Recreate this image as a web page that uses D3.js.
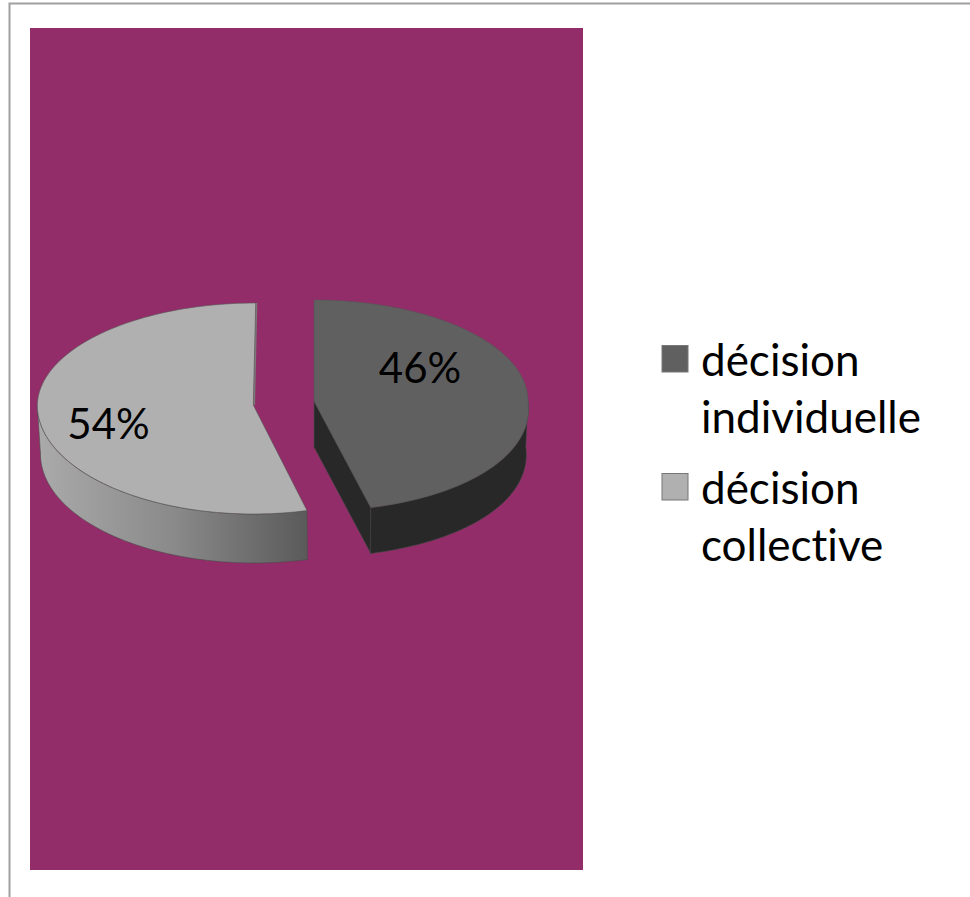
<!DOCTYPE html>
<html lang="fr">
<head>
<meta charset="utf-8">
<style>
  html, body { margin: 0; padding: 0; background: #fff; }
  svg { display: block; }
  text { font-family: Lato, "Open Sans", sans-serif; fill: #000; font-variant-ligatures: none; }
</style>
<script src="https://cdn.jsdelivr.net/npm/d3@7/dist/d3.min.js"></script>
</head>
<body>
<svg id="chart" width="970" height="897"></svg>
<script>
// Chart content
const categories = ["décision individuelle", "décision collective"];
const legendLines = [["décision", "individuelle"], ["décision", "collective"]];
const shares = [46, 54];
const shareLabels = ["46%", "54%"];
const topColors = ["#606060", "#b0b0b0"];
const wallColors = ["#282828", "url(#wallShade)"];
const wallShadeStops = ["#aaaaaa", "#8a8a8a", "#5a5a5a"];

const svg = d3.select("#chart");

// Page frame and plot background
svg.append("path")
  .attr("d", "M9.5,897V3.5H970")
  .attr("fill", "none").attr("stroke", "#a0a0a0").attr("stroke-width", 2);
svg.append("rect")
  .attr("x", 30).attr("y", 28).attr("width", 553).attr("height", 842)
  .attr("fill", "#932d69");

// Shading for the curved wall of the lighter slice
const grad = svg.append("defs").append("linearGradient")
  .attr("id", "wallShade").attr("gradientUnits", "userSpaceOnUse")
  .attr("x1", 38).attr("x2", 308).attr("y1", 0).attr("y2", 0);
wallShadeStops.forEach((c, i) => grad.append("stop")
  .attr("offset", i / (wallShadeStops.length - 1)).attr("stop-color", c));

// Pie angles, clockwise from twelve o'clock
const arcs = d3.pie().sort(null).value(d => d)(shares);

// Each exploded slice has its own tilted-disc projection:
// flare widens the near half, lean shifts the far half sideways
const discs = [
  { cx: 314, cy: 401, rx: 214, up: 101, down: 110, depth: 46, flare: 0.07, lean: 0, shift: 0 },
  { cx: 253.3, cy: 405, rx: 216, up: 102, down: 109, depth: 49, flare: 0, lean: 2.4, shift: 1 }
];
const project = (disc, angle) => {
  const c = Math.cos(angle), s = Math.sin(angle);
  return c > 0
    ? [disc.cx + disc.rx * s + disc.lean * c, disc.cy - c * disc.up]
    : [disc.cx + disc.rx * s * (1 - disc.flare * c), disc.cy - c * disc.down];
};
const sweep = (a0, a1) => d3.range(0, 121).map(i => a0 + (a1 - a0) * i / 120);
const line = d3.line();

arcs.forEach((arc, i) => {
  const disc = discs[i];
  const g = svg.append("g");
  // Visible part of the rim lies in the lower half of the disc
  const rimA = Math.max(arc.startAngle, Math.PI / 2);
  const rimB = Math.min(arc.endAngle, Math.PI * 1.5);
  const rimTop = sweep(rimA, rimB).map(a => project(disc, a));
  const rimBottom = rimTop
    .map(p => [disc.cx + (p[0] - disc.cx) * 0.99 + disc.shift, p[1] + disc.depth])
    .reverse();
  const centre = [disc.cx, disc.cy];

  if (i === 0) {
    // Cut face of the darker slice
    const tip = project(disc, arc.endAngle);
    g.append("path")
      .attr("d", line([centre, tip, [tip[0], tip[1] + disc.depth], [centre[0], centre[1] + disc.depth]]) + "Z")
      .attr("fill", wallColors[i]).attr("stroke", "#4a4a4a").attr("stroke-width", 0.6);
  } else {
    // Narrow cut face showing on the far edge of the lighter slice
    const far = project(disc, arc.endAngle);
    g.append("path")
      .attr("d", line([far, [far[0] + 1.6, far[1]], [centre[0] + 1.8, centre[1] - 3], [centre[0] + 1.8, centre[1]], centre]) + "Z")
      .attr("fill", "#7a7a7a");
  }

  g.append("path")
    .attr("d", line(rimTop.concat(rimBottom)) + "Z")
    .attr("fill", wallColors[i]).attr("stroke", "#4a4a4a").attr("stroke-width", 0.6);

  const outline = [centre].concat(sweep(arc.startAngle, arc.endAngle).map(a => project(disc, a)));
  g.append("path")
    .attr("d", line(outline) + "Z")
    .attr("fill", topColors[i]).attr("stroke", "#555").attr("stroke-width", 0.6);
});

// Share labels sitting on the slices
const labelAnchors = [[420, 368], [108.5, 424]];
svg.selectAll("text.share").data(shareLabels).join("text")
  .attr("class", "share")
  .attr("x", (d, i) => labelAnchors[i][0])
  .attr("y", (d, i) => labelAnchors[i][1])
  .attr("dy", "0.35em")
  .attr("text-anchor", "middle")
  .attr("font-size", 42)
  .text(d => d);

// Legend
const legendY = d3.scalePoint().domain(categories).range([361, 489]);
const legend = svg.selectAll("g.key").data(categories).join("g")
  .attr("class", "key")
  .attr("transform", d => `translate(0,${legendY(d)})`);
legend.append("rect")
  .attr("x", 662).attr("y", -15.5).attr("width", 26).attr("height", 26.5)
  .attr("fill", (d, i) => topColors[i])
  .attr("stroke", "#777").attr("stroke-width", 1);
legend.each(function (d, i) {
  const key = d3.select(this);
  legendLines[i].forEach((t, k) => key.append("text")
    .attr("x", 701).attr("y", 15 + k * 57)
    .attr("font-size", 44)
    .text(t));
});
</script>
</body>
</html>
